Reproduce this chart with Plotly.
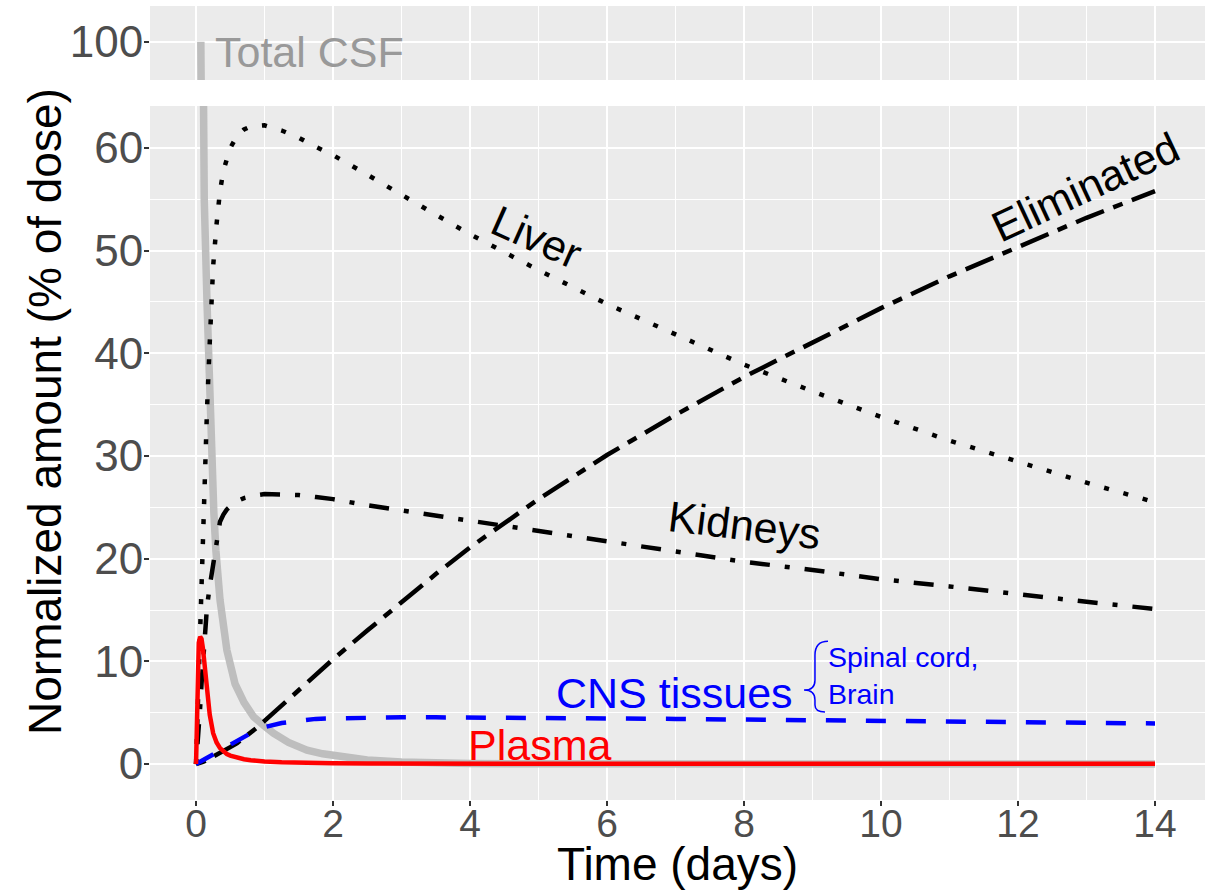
import plotly.graph_objects as go

# ---------------- data ----------------
time_days = [0, 0.02, 0.04, 0.06, 0.08, 0.1, 0.13, 0.16, 0.2, 0.25, 0.3, 0.35, 0.4, 0.45,
             0.5, 0.6, 0.7, 0.8, 0.9, 1.0, 1.25, 1.5, 1.75, 2, 2.5, 3, 3.5, 4, 5, 6, 7, 8,
             9, 10, 11, 12, 13, 14]

liver = [0, 4.5, 9.0, 13.7, 18.0, 22.5, 28.5, 34.5, 41.0, 48.5, 52.6, 55.8, 57.8, 59.0,
         60.0, 61.2, 61.8, 62.1, 62.2, 62.2, 61.7, 61.0, 60.1, 59.3, 57.4, 55.4, 53.5, 51.6,
         48.1, 44.8, 41.8, 38.9, 36.3, 33.8, 31.5, 29.4, 27.4, 25.5]

kidneys = [0, 1.5, 3.2, 5.5, 7.8, 10.0, 13.0, 15.3, 17.3, 19.6, 22.0, 23.6, 24.3, 24.8,
           25.1, 25.6, 25.9, 26.1, 26.2, 26.3, 26.3, 26.2, 26.0, 25.8, 25.2, 24.7, 24.1, 23.6,
           22.6, 21.6, 20.6, 19.7, 18.9, 18.0, 17.3, 16.5, 15.8, 15.1]

eliminated = [0, 0.02, 0.05, 0.1, 0.15, 0.2, 0.3, 0.4, 0.55, 0.8, 0.95, 1.1, 1.25, 1.45,
              1.65, 2.05, 2.55, 3.0, 3.6, 4.2, 5.7, 7.2, 8.7, 10.2, 13.0, 15.8, 18.5, 21.1,
              25.8, 30.1, 34.0, 37.7, 41.1, 44.4, 47.5, 50.4, 53.2, 55.8]

cns_tissues = [0, 0.07, 0.14, 0.2, 0.28, 0.35, 0.46, 0.57, 0.72, 0.9, 1.1, 1.3, 1.5, 1.7,
               1.9, 2.3, 2.65, 3.0, 3.3, 3.6, 4.0, 4.25, 4.4, 4.45, 4.52, 4.55, 4.55, 4.54,
               4.5, 4.45, 4.4, 4.33, 4.27, 4.2, 4.14, 4.08, 4.02, 3.96]

plasma = [0, 9.5, 11.8, 12.4, 12.2, 11.3, 9.5, 7.3, 4.8, 3.0, 2.1, 1.55, 1.2, 0.98,
          0.82, 0.6, 0.47, 0.38, 0.31, 0.26, 0.18, 0.13, 0.1, 0.08, 0.05, 0.04, 0.03, 0.02,
          0.02, 0.02, 0.02, 0.02, 0.02, 0.02, 0.02, 0.02, 0.02, 0.02]

csf_time = [0.07, 0.09, 0.12, 0.16, 0.2, 0.23, 0.26, 0.29, 0.35, 0.45, 0.57, 0.7, 0.84,
            1.0, 1.13, 1.35, 1.62, 1.85, 2.1, 2.5, 3, 3.5, 4, 5, 6, 7, 8, 9, 10, 11, 12,
            13, 14]
total_csf = [100, 64, 55, 45, 35.5, 29.5, 24.5, 20.8, 16.0, 11.1, 7.8, 6.0, 4.6, 3.7,
             3.0, 2.1, 1.36, 1.0, 0.7, 0.4, 0.2, 0.1, 0.05, 0.02, 0.01, 0, 0, 0, 0, 0, 0,
             0, 0]

x_ticks = [0, 2, 4, 6, 8, 10, 12, 14]
y_ticks = [0, 10, 20, 30, 40, 50, 60]
y_top_ticks = [100]

# ---------------- figure ----------------
FONT = "Liberation Sans, Arial, sans-serif"
LW = 4.5

fig = go.Figure()

for xa, ya in (("x", "y"), ("x2", "y2")):
    fig.add_trace(go.Scatter(x=csf_time, y=total_csf, mode="lines", xaxis=xa, yaxis=ya,
                             line=dict(color="#BEBEBE", width=7.5), hoverinfo="skip"))

fig.add_trace(go.Scatter(x=time_days, y=liver, mode="lines",
                         line=dict(color="black", width=LW, dash="5px,15px")))
fig.add_trace(go.Scatter(x=time_days, y=kidneys, mode="lines",
                         line=dict(color="black", width=LW, dash="5px,15px,20px,15px")))
fig.add_trace(go.Scatter(x=time_days, y=eliminated, mode="lines",
                         line=dict(color="black", width=LW, dash="10px,10px,30px,10px")))
fig.add_trace(go.Scatter(x=time_days, y=cns_tissues, mode="lines",
                         line=dict(color="#0000FF", width=LW, dash="20px,20px")))
fig.add_trace(go.Scatter(x=time_days, y=plasma, mode="lines",
                         line=dict(color="#FF0000", width=LW)))

xr = [-0.672, 14.73]
ytickfont = dict(family=FONT, size=44, color="#4D4D4D")
xtickfont = dict(family=FONT, size=39, color="#4D4D4D")
common_x = dict(range=xr, showgrid=True, gridcolor="white", gridwidth=2, zeroline=False,
                showline=False, tickvals=x_ticks,
                minor=dict(tickvals=[1, 3, 5, 7, 9, 11, 13], showgrid=True,
                           gridcolor="white", gridwidth=1))

fig.update_layout(
    width=1207, height=890,
    margin=dict(l=150, r=2, t=6, b=90),
    paper_bgcolor="white", plot_bgcolor="#EBEBEB",
    showlegend=False,
    font=dict(family=FONT),
    xaxis=dict(**common_x, anchor="y", domain=[0, 1], ticks="outside", ticklen=5,
               tickwidth=1.5, tickcolor="#333333", tickfont=xtickfont,
               ticklabelstandoff=-16, automargin=False),
    xaxis2=dict(**common_x, anchor="y2", domain=[0, 1], matches="x",
                showticklabels=False, ticks=""),
    yaxis=dict(domain=[0, 0.8741], range=[-3.50, 64.09], tickvals=y_ticks,
               showgrid=True, gridcolor="white", gridwidth=2, zeroline=False,
               ticks="outside", ticklen=5, tickwidth=1.5, tickcolor="#333333",
               tickfont=ytickfont, ticklabelstandoff=-8, automargin=False,
               minor=dict(tickvals=[5, 15, 25, 35, 45, 55], showgrid=True,
                          gridcolor="white", gridwidth=1)),
    yaxis2=dict(domain=[0.9068, 1], range=[96.27, 103.47], tickvals=y_top_ticks,
                showgrid=True, gridcolor="white", gridwidth=2, zeroline=False,
                ticks="outside", ticklen=5, tickwidth=1.5, tickcolor="#333333",
                tickfont=ytickfont, ticklabelstandoff=-8, automargin=False,
                anchor="x2"),
)

LAB = 43
ann = [
    dict(text="Total CSF", x=0.248, y=99.0, xref="x2", yref="y2", xanchor="left",
         yanchor="middle", font=dict(size=LAB, color="#999999")),
    dict(text="Liver", x=4.97, y=51.3, xref="x", yref="y", textangle=24,
         font=dict(size=LAB, color="black")),
    dict(text="Eliminated", x=12.98, y=56.2, xref="x", yref="y", textangle=-25,
         font=dict(size=LAB, color="black")),
    dict(text="Kidneys", x=8.0, y=23.25, xref="x", yref="y", textangle=7,
         font=dict(size=LAB, color="black")),
    dict(text="CNS tissues", x=6.99, y=6.9, xref="x", yref="y",
         font=dict(size=LAB, color="#0000FF")),
    dict(text="Plasma", x=5.02, y=1.85, xref="x", yref="y",
         font=dict(size=LAB, color="#FF0000")),
    dict(text="Spinal cord,<br>Brain", x=9.20, y=8.6, xref="x", yref="y",
         xanchor="left", yanchor="middle", align="left",
         font=dict(size=28.5, color="#0000FF")),
    dict(text="Normalized amount (% of dose)", x=0, xshift=-105, y=0.4887,
         xref="paper", yref="paper", textangle=-90, xanchor="center", yanchor="middle",
         font=dict(size=46, color="black")),
    dict(text="Time (days)", x=0.5, y=-0.0805, xref="paper", yref="paper",
         xanchor="center", yanchor="middle", font=dict(size=46, color="black")),
]
for a in ann:
    a.setdefault("showarrow", False)
    fig.add_annotation(**a)

# curly brace next to the tissue note
fig.add_shape(type="path", xref="x", yref="y",
              path="M 9.226,11.96 Q 9.036,11.96 9.036,10.60 L 9.036,8.17 "
                   "Q 9.036,7.20 8.876,7.20 Q 9.036,7.20 9.036,6.23 L 9.036,5.74 "
                   "Q 9.036,5.06 9.182,5.06",
              line=dict(color="#0000FF", width=1.5))

fig.write_html("out.html")
